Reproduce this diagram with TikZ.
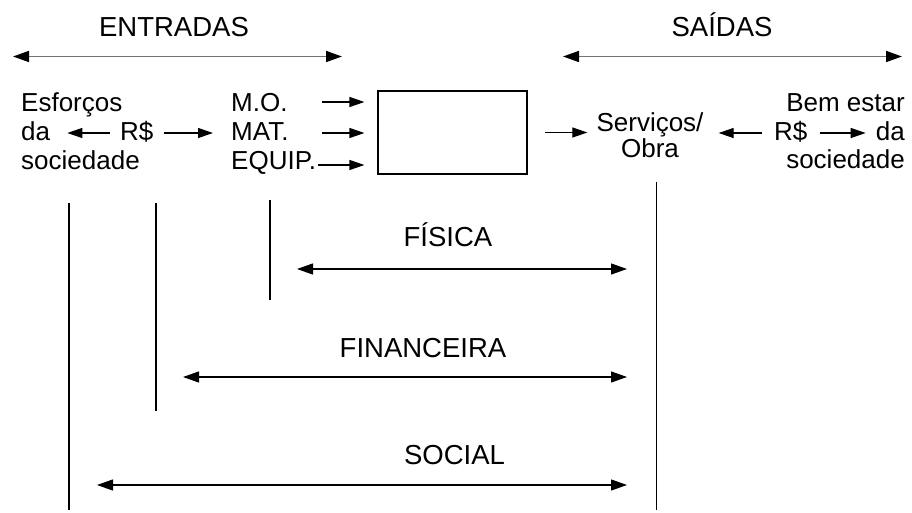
\documentclass[tikz,border=0pt]{standalone}
\usepackage{fontspec}
\setmainfont{Liberation Sans}
\usetikzlibrary{arrows.meta}
\begin{document}
\begin{tikzpicture}[x=1pt,y=-1pt,
  txt/.style={inner sep=0pt, text height=20pt, text depth=4pt, font=\fontsize{26}{29}\selectfont},
  lbl/.style={inner sep=0pt, font=\fontsize{27.5}{30}\selectfont},
  arr/.style={line width=1.2pt, -{Triangle[length=15pt,width=10pt]}},
  darr/.style={line width=1.2pt, {Triangle[length=16pt,width=11pt]}-{Triangle[length=16pt,width=11pt]}},
  garr/.style={line width=1.6pt, draw=black!55, {Triangle[length=16pt,width=11pt,black]}-{Triangle[length=16pt,width=11pt,black]}},
  vline/.style={line width=1.2pt}]
\useasboundingbox (0,0) rectangle (912,513);
% headers
\node[lbl, anchor=base] (ent) at (174,37) {ENTRADAS};
\node[lbl, anchor=base] (sai) at (722,37) {SAÍDAS};
\coordinate (entL) at (13,56.5);
\coordinate (entR) at (342,56.5);
\coordinate (saiL) at (563,56.5);
\coordinate (saiR) at (902,56.5);
\draw[garr] (entL) -- (entR);
\draw[garr] (saiL) -- (saiR);
% left block
\node[txt, anchor=base west] (esf) at (21,112) {Esforços};
\node[txt, anchor=base west] (da1) at (21,141) {da};
\node[txt, anchor=base west] (soc1) at (21,170) {sociedade};
\node[txt, anchor=base west] (rs1) at (120,141) {R\$};
\draw[arr, shorten <=10pt, shorten >=17pt] (rs1.west) -- (da1.east);
\node[txt, anchor=base west] (mo) at (231,112) {M.O.};
\node[txt, anchor=base west] (mat) at (231,141) {MAT.};
\node[txt, anchor=base west] (eq) at (231,170) {EQUIP.};
\draw[arr, shorten <=10pt, shorten >=18pt] (rs1.east) -- (mat.west);
% box
\node[draw, line width=1.2pt, minimum width=149pt, minimum height=83pt, inner sep=0pt] (box) at (452.5,132.5) {};
\coordinate (moS) at (322,102);
\coordinate (matS) at (322,133);
\coordinate (eqS) at (318,165);
\draw[arr, shorten >=13pt] (moS) -- (moS -| box.west);
\draw[arr, shorten >=13pt] (matS) -- (matS -| box.west);
\draw[arr, shorten >=13pt] (eqS) -- (eqS -| box.west);
% right block
\node[txt, anchor=base] (srv) at (650,132) {Serviços/};
\node[txt, anchor=base] (obra) at (650,158) {Obra};
\draw[arr, shorten <=17pt, shorten >=9pt] (box.east) -- (box.east -| srv.west);
\node[txt, anchor=base west] (rs2) at (774,141) {R\$};
\node[txt, anchor=base east] (bem) at (905,112) {Bem estar};
\node[txt, anchor=base east] (da2) at (905,141) {da};
\node[txt, anchor=base east] (soc2) at (905,169) {sociedade};
\draw[arr, shorten <=12pt, shorten >=15pt] (rs2.west) -- (rs2.west -| srv.east);
\draw[arr, shorten <=12pt, shorten >=10pt] (rs2.east) -- (rs2.east -| da2.west);
% vertical lines
\coordinate (v1t) at (69,203);   \coordinate (v1b) at (69,510);
\coordinate (v2t) at (156,203);  \coordinate (v2b) at (156,411);
\coordinate (v3t) at (270,200);  \coordinate (v3b) at (270,300);
\coordinate (v4t) at (656.5,182); \coordinate (v4b) at (656.5,510);
\draw[vline] (v1t) -- (v1b);
\draw[vline] (v2t) -- (v2b);
\draw[vline] (v3t) -- (v3b);
\draw[vline] (v4t) -- (v4b);
% lower arrows
\node[lbl, anchor=base] (fis) at (448,246) {FÍSICA};
\coordinate (fisL) at (297,269); \coordinate (fisR) at (627,269);
\draw[darr] (fisL) -- (fisR);
\node[lbl, anchor=base] (fin) at (423,357) {FINANCEIRA};
\coordinate (finL) at (183,377); \coordinate (finR) at (627,377);
\draw[darr] (finL) -- (finR);
\node[lbl, anchor=base] (socl) at (454.5,464) {SOCIAL};
\coordinate (socL) at (97,485); \coordinate (socR) at (627,485);
\draw[darr] (socL) -- (socR);
\end{tikzpicture}
\end{document}
